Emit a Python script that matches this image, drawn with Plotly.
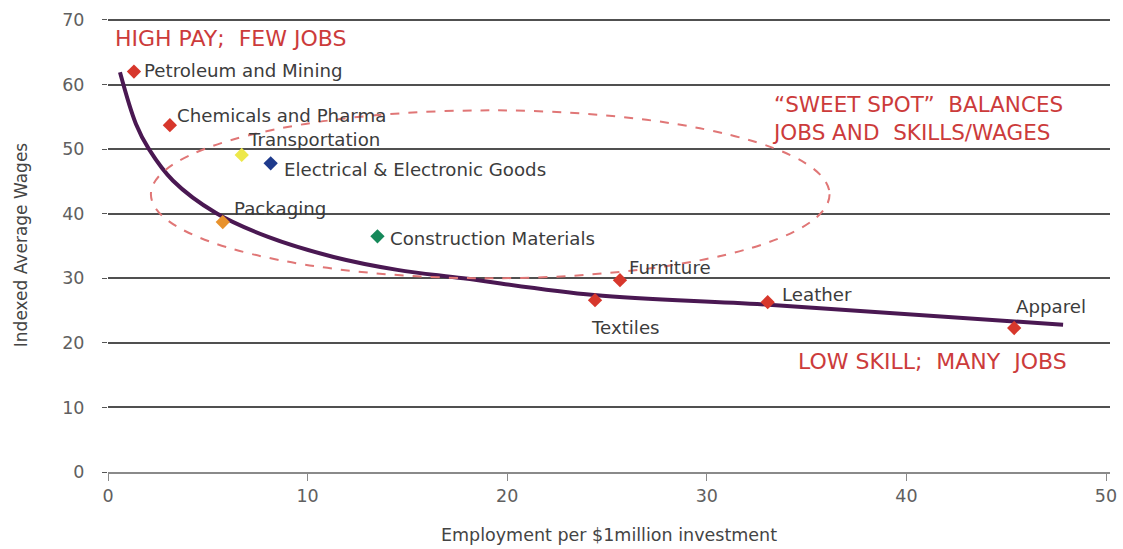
import plotly.graph_objects as go

# Sector data
sectors = ["Petroleum and Mining", "Chemicals and Pharma", "Transportation",
           "Electrical & Electronic Goods", "Packaging", "Construction Materials",
           "Furniture", "Textiles", "Leather", "Apparel"]
employment = [1.3, 3.1, 6.7, 8.15, 5.75, 13.5, 25.65, 24.4, 33.05, 45.4]
wages = [62.0, 53.7, 49.1, 47.8, 38.7, 36.5, 29.7, 26.6, 26.3, 22.3]
colors = ["#D7372C", "#D7372C", "#EDE84A", "#1E3A8C", "#E8922C", "#16895A",
          "#D7372C", "#D7372C", "#D7372C", "#D7372C"]

# Label offsets in pixels (xshift, yshift)
label_shift = [(8, 1), (5, 10), (4, 15), (11, -6), (9, 14), (11, -2),
               (7, 13), (-6, -27), (12, 8), (0, 21)]

# Trend curve
trend_x = [0.6, 1.4, 2.05, 3.26, 5.41, 8.02, 11.3, 14.5, 17.8, 24.35, 33.1, 47.85]
trend_y = [61.9, 53.9, 50.0, 45.1, 40.1, 36.4, 33.3, 31.3, 30.0, 27.4, 25.9, 22.8]

# Sweet spot ellipse extent
ellipse_x = [2.15, 36.15]
ellipse_y = [30.0, 56.0]

x_ticks = [0, 10, 20, 30, 40, 50]
y_ticks = [0, 10, 20, 30, 40, 50, 60, 70]

FONT = "DejaVu Sans"
TXT = "#3c3c3c"
RED = "#CC3B3B"

fig = go.Figure()

fig.add_trace(go.Scatter(
    x=trend_x, y=trend_y, mode="lines",
    line=dict(color="#4A1852", width=4, shape="spline", smoothing=1.0),
    hoverinfo="skip", showlegend=False))

fig.add_trace(go.Scatter(
    x=employment, y=wages, mode="markers",
    marker=dict(symbol="diamond", size=11, color=colors, line=dict(width=0)),
    text=sectors, showlegend=False))

for name, xv, yv, (dx, dy) in zip(sectors, employment, wages, label_shift):
    fig.add_annotation(x=xv, y=yv, text=name, showarrow=False,
                       xanchor="left", yanchor="middle", xshift=dx, yshift=dy,
                       font=dict(family=FONT, size=18.2, color=TXT))

fig.add_shape(type="circle", xref="x", yref="y",
              x0=ellipse_x[0], x1=ellipse_x[1], y0=ellipse_y[0], y1=ellipse_y[1],
              line=dict(color="#E07676", width=2, dash="dash"))

fig.add_annotation(x=0.25, y=67.2, text="HIGH PAY;  FEW JOBS", showarrow=False,
                   xanchor="left", yanchor="middle",
                   font=dict(family=FONT, size=22, color=RED))
fig.add_annotation(x=47.95, y=54.8, text="“SWEET SPOT”  BALANCES<br>JOBS AND  SKILLS/WAGES",
                   showarrow=False, xanchor="right", yanchor="middle", align="left",
                   font=dict(family=FONT, size=21.5, color=RED))
fig.add_annotation(x=48.15, y=17.1, text="LOW SKILL;  MANY  JOBS", showarrow=False,
                   xanchor="right", yanchor="middle",
                   font=dict(family=FONT, size=22, color=RED))

fig.update_layout(
    width=1123, height=549,
    margin=dict(l=108, r=13, t=18, b=77),
    paper_bgcolor="white", plot_bgcolor="white",
    font=dict(family=FONT, color="#555555"),
    xaxis=dict(range=[0, 50.2], tickvals=x_ticks, showgrid=False, zeroline=False,
               automargin=False,
               showline=True, linecolor="#8a8a8a", linewidth=2,
               ticks="outside", ticklen=7, tickcolor="#8a8a8a", tickwidth=1,
               tickfont=dict(size=17.5, color="#606060"),
               title=dict(text="Employment per $1million investment",
                          font=dict(size=17.5, color="#444444"), standoff=24)),
    yaxis=dict(range=[0, 70.3], tickvals=y_ticks, showgrid=True,
               gridcolor="#505050", gridwidth=2, zeroline=False,
               automargin=False,
               showline=False, ticks="outside", ticklen=5, tickcolor="#555555",
               ticklabelstandoff=14,
               tickfont=dict(size=17.5, color="#606060"),
               title=dict(text="Indexed Average Wages",
                          font=dict(size=17, color="#444444"), standoff=30)),
)

fig.write_html("out.html")
